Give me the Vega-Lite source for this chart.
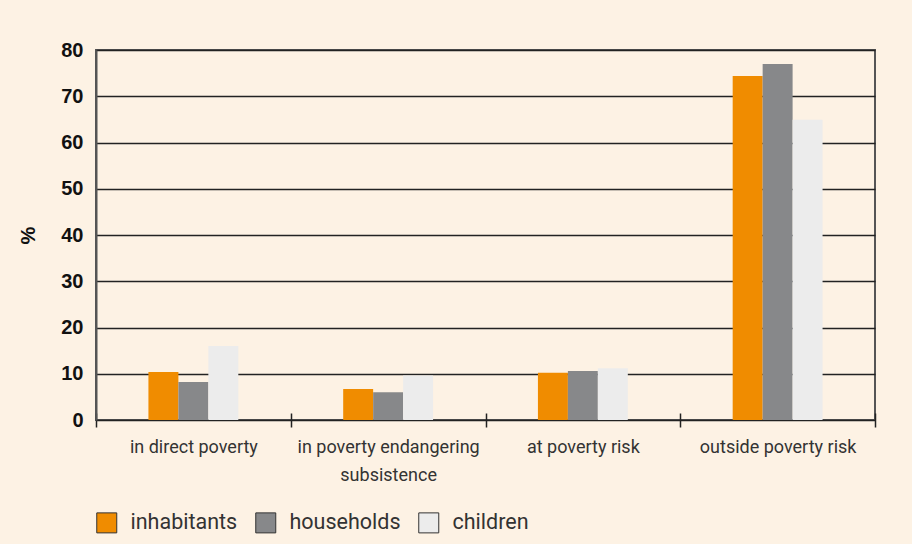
{
  "$schema": "https://vega.github.io/schema/vega-lite/v6.json",
  "autosize": {"type": "none"},
  "width": 779,
  "height": 370,
  "padding": {"left": 96, "top": 50, "right": 37, "bottom": 124},
  "background": "#FDF2E4",
  "config": {
    "view": {"stroke": "#555555", "strokeWidth": 2},
    "font": "Roboto"
  },
  "data": {
    "values": [
      {"category": "in direct poverty", "group": "inhabitants", "value": 10.4},
      {"category": "in direct poverty", "group": "households", "value": 8.2},
      {"category": "in direct poverty", "group": "children", "value": 16.0},
      {"category": "in poverty endangering subsistence", "group": "inhabitants", "value": 6.7},
      {"category": "in poverty endangering subsistence", "group": "households", "value": 6.0},
      {"category": "in poverty endangering subsistence", "group": "children", "value": 9.6},
      {"category": "at poverty risk", "group": "inhabitants", "value": 10.2},
      {"category": "at poverty risk", "group": "households", "value": 10.6},
      {"category": "at poverty risk", "group": "children", "value": 11.2},
      {"category": "outside poverty risk", "group": "inhabitants", "value": 74.4},
      {"category": "outside poverty risk", "group": "households", "value": 77.0},
      {"category": "outside poverty risk", "group": "children", "value": 64.9}
    ]
  },
  "mark": {"type": "bar"},
  "encoding": {
    "x": {
      "field": "category",
      "type": "nominal",
      "sort": ["in direct poverty", "in poverty endangering subsistence", "at poverty risk", "outside poverty risk"],
      "scale": {"paddingInner": 0, "paddingOuter": 0},
      "axis": {
        "title": null,
        "labelAngle": 0,
        "tickBand": "extent",
        "ticks": true,
        "tickSize": 14,
        "tickColor": "#222222",
        "tickWidth": 1.5,
        "offset": -7,
        "domain": false,
        "grid": false,
        "labelPadding": 11,
        "labelLimit": 400,
        "labelFont": "Roboto",
        "labelFontWeight": 400,
        "labelFontSize": 18,
        "labelColor": "#333333",
        "labelLineHeight": 28,
        "labelExpr": "datum.value == 'in poverty endangering subsistence' ? ['in poverty endangering', 'subsistence'] : datum.label"
      }
    },
    "xOffset": {
      "field": "group",
      "type": "nominal",
      "scale": {"domain": ["pad-left", "inhabitants", "households", "children", "pad-right"], "paddingInner": 0, "paddingOuter": 0.75}
    },
    "y": {
      "field": "value",
      "type": "quantitative",
      "scale": {"domain": [0, 80], "nice": false},
      "axis": {
        "title": "%",
        "values": [0, 10, 20, 30, 40, 50, 60, 70, 80],
        "grid": true,
        "gridColor": "#222222",
        "gridWidth": 1.5,
        "ticks": false,
        "domain": true,
        "domainColor": "#555555",
        "domainWidth": 2,
        "labelFont": "Liberation Sans",
        "labelFontWeight": "bold",
        "labelFontSize": 20,
        "labelColor": "#111111",
        "labelPadding": 13,
        "titleFont": "Liberation Sans",
        "titleFontWeight": "bold",
        "titleFontSize": 20,
        "titleColor": "#111111",
        "titlePadding": 22
      }
    },
    "color": {
      "field": "group",
      "type": "nominal",
      "scale": {"domain": ["inhabitants", "households", "children"], "range": ["#F08C00", "#87888A", "#ECECEC"]},
      "legend": {
        "title": null,
        "orient": "none",
        "legendX": 0,
        "legendY": 462,
        "direction": "horizontal",
        "padding": 0,
        "symbolType": "square",
        "symbolSize": 400,
        "symbolStrokeColor": "#333333",
        "symbolStrokeWidth": 1,
        "labelFont": "Roboto",
        "labelFontWeight": 400,
        "labelFontSize": 21.5,
        "labelColor": "#333333",
        "labelOffset": 13,
        "columnPadding": 15,
        "encode": {"symbols": {"update": {"stroke": {"value": "#333333"}, "strokeWidth": {"value": 1}}}}
      }
    }
  }
}
